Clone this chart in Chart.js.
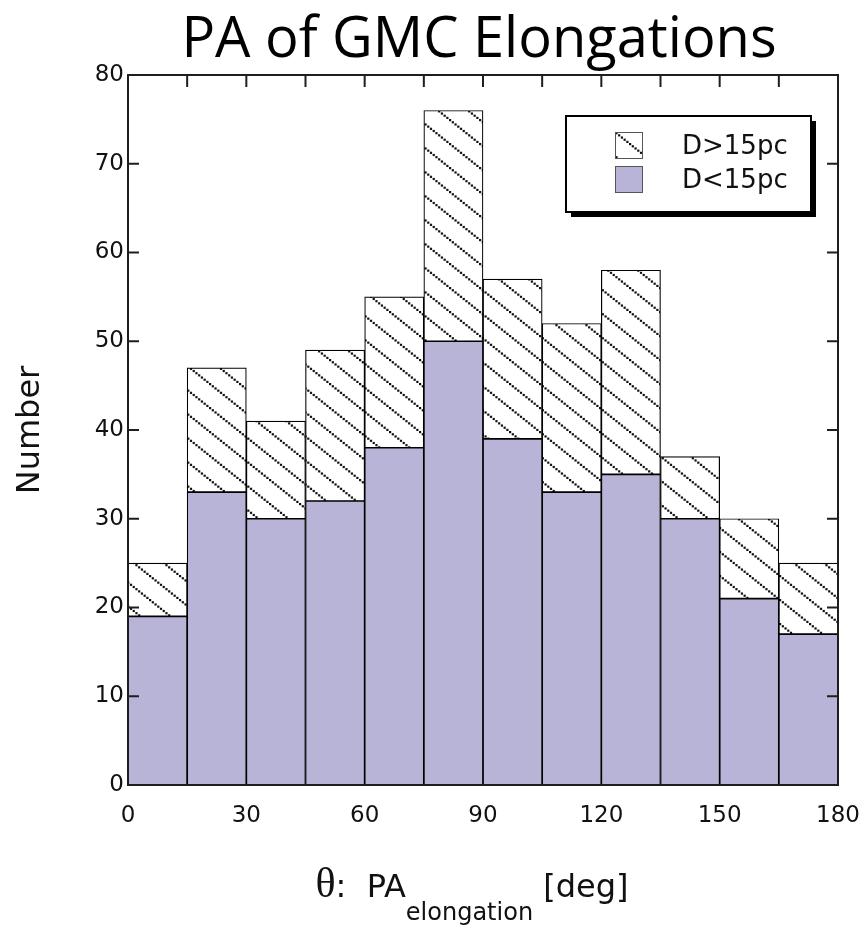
<!DOCTYPE html>
<html>
<head>
<meta charset="utf-8">
<script src="https://cdn.jsdelivr.net/npm/chart.js@4.4.1/dist/chart.umd.min.js"></script>
<style>
html,body{margin:0;padding:0;background:#fff;}
canvas{display:block;}
</style>
</head>
<body>
<canvas id="c" width="865" height="926"></canvas>
<script>
// ---- data ----
const binLabels = ['0-15','15-30','30-45','45-60','60-75','75-90','90-105','105-120','120-135','135-150','150-165','165-180'];
const smallClouds = [19, 33, 30, 32, 38, 50, 39, 33, 35, 30, 21, 17];   // D<15pc
const largeClouds = [6, 14, 11, 17, 17, 26, 18, 19, 23, 7, 9, 8];       // D>15pc (stacked on top)
const xTickValues = [0, 30, 60, 90, 120, 150, 180];
const yTickValues = [0, 10, 20, 30, 40, 50, 60, 70, 80];
const titleText = 'PA of GMC Elongations';
const yTitle = 'Number';
const seriesNames = ['D>15pc', 'D<15pc'];

const purple = '#b8b4d7';

function makeHatch() {
  const W = 30, H = 24;
  const c = document.createElement('canvas');
  c.width = W; c.height = H;
  const g = c.getContext('2d');
  g.fillStyle = '#ffffff';
  g.fillRect(0, 0, W, H);
  g.fillStyle = '#111111';
  const n = 11;
  for (let i = 0; i < n; i++) {
    const t = i / n;
    g.fillRect(t * W - 1, t * H - 1, 2.2, 2.2);
  }
  g.fillRect(W - 1, H - 1, 2.2, 2.2);
  g.fillRect(-1, H - 1, 2.2, 2.2);
  g.fillRect(W - 1, -1, 2.2, 2.2);
  return g.createPattern(c, 'repeat');
}
const ctx0 = document.getElementById('c').getContext('2d');
const hatch = makeHatch();

const framePlugin = {
  id: 'frame',
  afterDatasetsDraw(chart) {
    const {ctx, chartArea: a, scales} = chart;
    const y = scales.y, xl = scales.xl;
    ctx.save();
    ctx.strokeStyle = '#1e1e1e';
    ctx.lineWidth = 2;
    ctx.strokeRect(a.left, a.top, a.right - a.left, a.bottom - a.top);
    ctx.beginPath();
    for (let v = 10; v < 80; v += 10) {
      const py = y.getPixelForValue(v);
      ctx.moveTo(a.left, py); ctx.lineTo(a.left + 11, py);
      ctx.moveTo(a.right, py); ctx.lineTo(a.right - 11, py);
    }
    for (let v = 15; v < 180; v += 15) {
      const px = xl.getPixelForValue(v);
      ctx.moveTo(px, a.top); ctx.lineTo(px, a.top + 12);
    }
    ctx.stroke();
    ctx.restore();
  },
  afterDraw(chart) {
    const {ctx, chartArea: a, data} = chart;
    ctx.save();
    // chart title
    ctx.fillStyle = '#000';
    ctx.font = '56px "Open Sans"';
    ctx.textAlign = 'center';
    ctx.textBaseline = 'alphabetic';
    ctx.fillText(titleText, (a.left + a.right) / 2 - 4, a.top - 18);
    // legend box with drop shadow
    const bx = a.right - 272, by = a.top + 41, bw = 245, bh = 96;
    ctx.fillStyle = '#000';
    ctx.fillRect(bx + 5, by + 5, bw, bh);
    ctx.fillStyle = '#fff';
    ctx.fillRect(bx, by, bw, bh);
    ctx.strokeStyle = '#000';
    ctx.lineWidth = 2;
    ctx.strokeRect(bx, by, bw, bh);
    const sx = bx + 49, sw = 28;
    const rows = [by + 30, by + 64];
    const fills = [hatch, purple];
    const names = [data.datasets[1].label, data.datasets[0].label];
    ctx.font = '26px "DejaVu Sans"';
    ctx.textBaseline = 'middle';
    ctx.textAlign = 'left';
    for (let i = 0; i < 2; i++) {
      ctx.fillStyle = fills[i];
      ctx.fillRect(sx, rows[i] - 14, sw, 27);
      ctx.strokeStyle = '#555';
      ctx.lineWidth = 1;
      ctx.strokeRect(sx + 0.5, rows[i] - 13.5, sw - 1, 26);
      ctx.fillStyle = '#111';
      ctx.fillText(names[i], bx + 116, rows[i] + 1);
    }
    // x axis title with subscript
    const cx = (a.left + a.right) / 2 - 11;
    const base = a.bottom + 112;
    const parts = [
      {t: 'θ', f: '42px "Liberation Serif"', dy: 0},
      {t: ':  PA', f: '32px "DejaVu Sans"', dy: 0},
      {t: 'elongation', f: '24px "DejaVu Sans"', dy: 23},
      {t: ' [deg]', f: '32px "DejaVu Sans"', dy: 0}
    ];
    let total = 0;
    parts.forEach(p => { ctx.font = p.f; p.w = ctx.measureText(p.t).width; total += p.w; });
    let x = cx - total / 2;
    ctx.fillStyle = '#111';
    ctx.textBaseline = 'alphabetic';
    parts.forEach(p => { ctx.font = p.f; ctx.fillText(p.t, x, base + p.dy); x += p.w; });
    ctx.restore();
  }
};

new Chart(ctx0, {
  type: 'bar',
  data: {
    labels: binLabels,
    datasets: [
      {label: seriesNames[1], data: smallClouds, backgroundColor: purple, borderColor: '#000', borderWidth: 1.2, borderSkipped: false, xAxisID: 'x', yAxisID: 'y'},
      {label: seriesNames[0], data: largeClouds, backgroundColor: hatch, borderColor: '#000', borderWidth: 1.2, borderSkipped: false, xAxisID: 'x', yAxisID: 'y'}
    ]
  },
  options: {
    responsive: false,
    animation: false,
    layout: {padding: {left: 0, right: 27, top: 75, bottom: 0}},
    datasets: {bar: {categoryPercentage: 1, barPercentage: 1}},
    plugins: {
      legend: {display: false},
      tooltip: {enabled: false},
      title: {display: false}
    },
    scales: {
      x: {type: 'category', display: false, stacked: true},
      xl: {type: 'linear', position: 'bottom', min: 0, max: 180, offset: false,
        afterBuildTicks: s => { s.ticks = xTickValues.map(v => ({value: v})); },
        grid: {display: false, drawTicks: false, offset: false}, border: {display: false},
        ticks: {color: '#111', font: {family: '"DejaVu Sans"', size: 23}, padding: 17, maxRotation: 0},
        afterFit: s => { s.height = 141; s.paddingLeft = 0; s.paddingRight = 0; }},
      y: {type: 'linear', stacked: true, min: 0, max: 80,
        afterBuildTicks: s => { s.ticks = yTickValues.map(v => ({value: v})); },
        grid: {display: false, drawTicks: false}, border: {display: false},
        ticks: {color: '#111', font: {family: '"DejaVu Sans"', size: 23}, padding: 4},
        title: {display: true, text: yTitle, color: '#111', font: {family: '"DejaVu Sans"', size: 32}, padding: {top: 11, bottom: 0}},
        afterFit: s => { s.width = 128; s.paddingTop = 0; s.paddingBottom = 0; }}
    }
  },
  plugins: [framePlugin]
});
</script>
</body>
</html>
